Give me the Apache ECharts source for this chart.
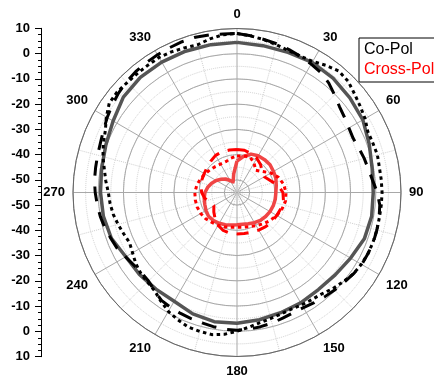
<!DOCTYPE html>
<html><head><meta charset="utf-8">
<script src="https://cdn.jsdelivr.net/npm/echarts@6/dist/echarts.min.js"></script>
<style>html,body{margin:0;padding:0;background:#fff}#c{width:434px;height:379px}</style>
</head><body><div id="c"></div><script>
// angles in degrees, values in dB
const ang10 = [0,10,20,30,40,50,60,70,80,90,100,110,120,130,140,150,160,170,180,190,200,210,220,230,240,250,260,270,280,290,300,310,320,330,340,350,360];
const ang5 = [0,5,10,15,20,25,30,35,40,45,50,55,60,65,70,75,80,85,90,95,100,105,110,115,120,125,130,135,140,145,150,155,160,165,170,175,180,185,190,195,200,205,210,215,220,225,230,235,240,245,250,255,260,265,270,275,280,285,290,295,300,305,310,315,320,325,330,335,340,345,350,355,360];

const coPolSolid = [4.5,4.1,4.1,4.6,4.2,3.4,2.6,0.8,-0.6,-1.0,-0.8,-1.3,-3.0,-4.2,-4.8,-4.5,-4.3,-3.8,-3.2,-3.0,-3.8,-5.2,-5.0,-4.5,-4.1,-2.0,-1.2,-0.9,-0.5,0.3,1.7,3.8,4.6,4.7,4.6,4.5,4.5];
const coPolDash = [8.0,7.4,6.6,6.0,5.3,4.5,3.8,3.0,1.6,-0.3,-2.0,-3.0,-3.8,-4.2,-3.6,-2.8,-2.1,-1.0,0.6,1.8,2.2,2.4,2.5,2.3,2.1,1.3,0.4,-0.3,-1.0,-1.7,-2.3,-2.4,-2.0,-1.4,-1.0,-0.6,-0.4,-0.6,-1.0,-1.5,-1.8,-2.1,-2.4,-2.8,-4.2,-5.4,-5.6,-5.0,-4.0,-2.6,-1.8,-0.8,0.0,0.6,1.2,1.7,1.9,2.2,2.6,3.4,4.4,5.4,6.3,7.0,7.5,7.8,8.0,8.3,8.6,8.7,8.4,8.1,8.0];
const coPolDot = [8.0,7.3,6.5,5.6,4.8,4.6,5.0,6.5,7.8,7.3,5.8,4.6,3.6,2.2,2.3,2.6,2.3,2.4,2.5,2.4,2.3,2.4,2.4,2.3,1.9,1.3,0.0,-1.2,-2.6,-3.2,-3.6,-4.0,-3.8,-3.3,-2.6,-1.4,0.0,1.4,2.2,2.0,1.7,0.6,-0.6,-2.4,-4.2,-4.8,-5.2,-6.0,-7.2,-8.0,-7.2,-6.2,-5.2,-4.5,-4.0,-2.8,-1.6,0.0,1.4,2.6,4.8,6.8,7.0,6.6,6.5,6.6,6.8,6.5,6.0,5.6,6.8,7.8,8.0];

const xPolSolid = [-42.5,-40.5,-38.8,-38.2,-38.0,-37.9,-38.3,-38.6,-39.2,-39.6,-39.6,-39.7,-39.9,-40.2,-40.6,-41.2,-41.8,-42.2,-42.2,-41.9,-41.4,-40.9,-40.5,-40.3,-40.8,-41.4,-41.8,-42.3,-43.2,-44.3,-45.5,-46.8,-48.0,-49.5,-50.5,-47.5,-42.5];
const xPolDot = [-40.5,-40.3,-40.0,-41.5,-43.5,-42.0,-39.5,-37.5,-36.2,-35.6,-35.5,-36.0,-36.8,-37.8,-38.8,-39.8,-40.6,-41.0,-41.2,-41.0,-40.5,-40.0,-39.5,-38.8,-38.4,-38.2,-38.2,-38.3,-38.8,-39.5,-40.3,-41.0,-41.6,-42.0,-42.0,-41.2,-40.5];
const xPolDash = [-38.0,-38.0,-38.6,-39.3,-40.5,-42.0,-42.5,-41.0,-38.5,-36.8,-36.3,-36.5,-36.8,-37.0,-37.3,-37.8,-38.2,-38.5,-38.6,-38.6,-39.0,-40.0,-41.5,-43.0,-44.4,-43.5,-42.0,-41.0,-40.5,-40.2,-40.0,-39.5,-38.8,-38.0,-37.8,-37.9,-38.0];

const legendNames = ['Co-Pol','Cross-Pol'];

function pts(angles, vals){ return angles.map((a,i)=>[vals[i], a]); }

const CX = 237, CY = 192.5, R = 164;
const labelFont = {fontFamily:'Liberation Sans, Arial, sans-serif', fontWeight:'bold', fontSize:13, color:'#000'};

function lineSeries(name, data, color, width, type){
  return {type:'line', name:name, coordinateSystem:'polar', polarIndex:0, data:data,
    showSymbol:false, symbol:'none', smooth:false, animation:false,
    lineStyle:{color:color, width:width, type:type, cap:'butt', join:'round'}};
}

const chart = echarts.init(document.getElementById('c'), null, {renderer:'canvas'});
chart.setOption({
  animation:false,
  backgroundColor:'#fff',
  polar:[{center:[CX,CY], radius:R},{center:[CX,CY], radius:R}],
  angleAxis:[
    {polarIndex:0, type:'value', min:0, max:360, interval:30, startAngle:90, clockwise:true,
     axisLine:{show:true, lineStyle:{color:'#666', width:1}},
     axisTick:{show:false},
     axisLabel:{show:true, margin:8, ...labelFont},
     splitLine:{show:true, lineStyle:{color:'#a8a8a8', width:1, type:'solid'}},
     minorTick:{show:false, splitNumber:2},
     minorSplitLine:{show:true, lineStyle:{color:'#cfcfcf', width:1, type:'dotted'}}},
    {polarIndex:1, type:'value', min:0, max:360, interval:30, startAngle:90, clockwise:true,
     axisLine:{show:false}, axisTick:{show:false}, axisLabel:{show:false}, splitLine:{show:false}}
  ],
  radiusAxis:[
    {polarIndex:0, type:'value', min:-55, max:10, interval:5,
     axisLine:{show:false}, axisTick:{show:false}, axisLabel:{show:false},
     splitLine:{show:true, lineStyle:{color:'#d0d0d0', width:1, type:'dotted'}}},
    {polarIndex:1, type:'value', min:-55, max:10, interval:5,
     axisLine:{show:false}, axisTick:{show:false}, axisLabel:{show:false},
     splitLine:{show:true, lineStyle:{color:['rgba(0,0,0,0)','#a8a8a8'], width:1, type:'solid'}}}
  ],
  grid:{left:41, top:28.3, width:1, height:328.4, containLabel:false},
  xAxis:{type:'value', show:false, min:0, max:1},
  yAxis:{type:'value', min:-65, max:65, interval:10, position:'left',
    axisLine:{show:true, onZero:false, lineStyle:{color:'#000', width:1}},
    axisTick:{show:true, inside:false, length:6, lineStyle:{color:'#000'}},
    minorTick:{show:true, splitNumber:4, length:3, lineStyle:{color:'#000'}},
    splitLine:{show:false},
    axisLabel:{margin:11, ...labelFont, formatter:function(v){ return String(v>0 ? v-55 : -v-55); }}},
  legend:{show:true, orient:'vertical', left:359, top:38, icon:'none', itemWidth:0, itemHeight:16, itemGap:4,
    padding:[4,30,4,0], borderColor:'#000', borderWidth:1, borderRadius:0, backgroundColor:'#fff',
    textStyle:{fontFamily:'Liberation Sans, Arial, sans-serif', fontSize:16},
    data:[{name:legendNames[0], textStyle:{color:'#000'}},{name:legendNames[1], textStyle:{color:'#ff0000'}}]},
  series:[
    lineSeries(legendNames[0], pts(ang10, coPolSolid), '#555555', 3.5, 'solid'),
    lineSeries(legendNames[0], pts(ang5, coPolDash), '#000000', 3, [15,11]),
    lineSeries(legendNames[0], pts(ang5, coPolDot), '#000000', 3, [3.5,3.5]),
    lineSeries(legendNames[1], pts(ang10, xPolSolid), '#f04545', 3.5, 'solid'),
    lineSeries(legendNames[1], pts(ang10, xPolDot), '#ff0000', 3, [3.5,3.5]),
    lineSeries(legendNames[1], pts(ang10, xPolDash), '#ff0000', 3, [12,9])
  ]
});
</script></body></html>
